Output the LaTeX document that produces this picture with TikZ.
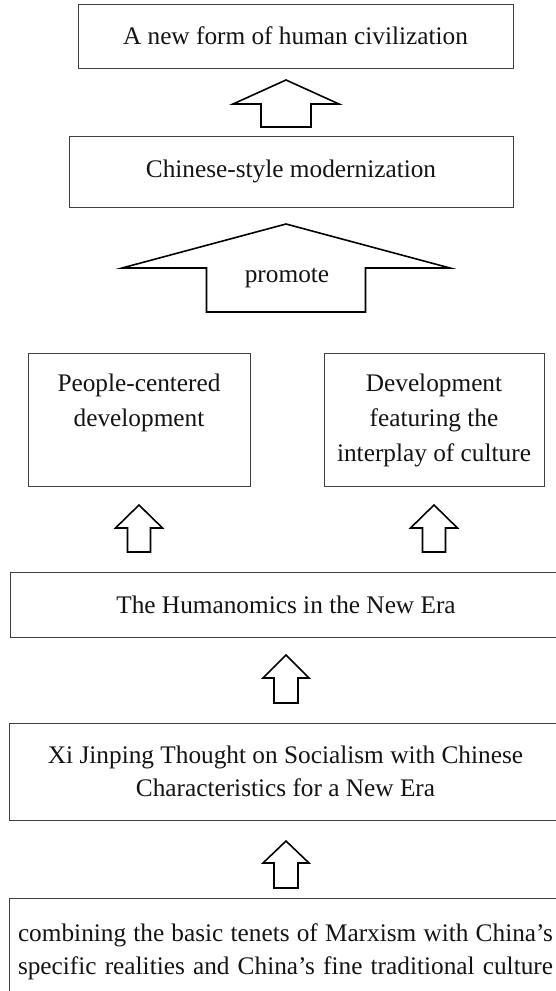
\documentclass[tikz,border=0pt]{standalone}
\usepackage{fontspec}
\setmainfont{Liberation Serif}

% block arrow pointing up: x, tip y, head base y, bottom y, head half width, shaft half width
\newcommand{\upblock}[6]{%
  \draw[blockline] (#1,#2) -- (#1+#5,#3) -- (#1+#6,#3) -- (#1+#6,#4)
    -- (#1-#6,#4) -- (#1-#6,#3) -- (#1-#5,#3) -- cycle;}

\begin{document}
\begin{tikzpicture}[x=1pt,y=-1pt]
  \tikzstyle{box}=[draw=black!75, line width=0.9pt, inner sep=0pt, align=center,
                   text=black!92, font=\fontsize{25.3}{33.5}\selectfont]
  \tikzstyle{tallbox}=[font=\fontsize{25.3}{35}\selectfont]
  \tikzstyle{blockline}=[draw=black, line width=1.6pt, line join=miter, fill=white]

  \useasboundingbox (0,0) rectangle (556,991);
  \fill[white] (0,0) rectangle (556,991);
  \clip (0,0) rectangle (556,991);

  % boxes, top to bottom
  \node[box, minimum width=435, minimum height=64]  (civil)  at (295.5,36)  {A new form of human civilization};
  \node[box, minimum width=444, minimum height=71]  (modern) at (291,171.5) {Chinese-style modernization};
  \node[box, tallbox, minimum width=222, minimum height=133] (people) at (139,419.5) {People-centered\strut\\development\\\strut};
  \node[box, tallbox, minimum width=220, minimum height=133] (culture) at (434,419.5) {Development\strut\\featuring the\\interplay of culture\strut};
  \node[box, minimum width=552, minimum height=65]  (human)  at (286,604.5) {The Humanomics in the New Era};
  \node[box, minimum width=553, minimum height=97]  (xi)     at (285.5,771.5) {Xi Jinping Thought on Socialism with Chinese\\Characteristics for a New Era};
  \node[box, minimum width=553, minimum height=107] (marx)   at (285.5,952)
    {\makebox[535pt][s]{combining the basic tenets of Marxism with China’s}\\
     \makebox[535pt][s]{specific realities and China’s fine traditional culture}};

  % arrows
  \upblock{286}{80}{104}{127}{53}{25}
  \upblock{286}{224}{268}{312}{164}{79.5}
  \node[font=\fontsize{25.3}{30}\selectfont, text=black!92] (promote) at (287,278) {promote};
  \upblock{139}{505}{528}{552}{23.5}{11.5}
  \upblock{434}{505}{528}{552}{23.5}{11.5}
  \upblock{286}{655}{678}{703}{23}{12}
  \upblock{286}{841}{863}{888}{23}{12}
\end{tikzpicture}
\end{document}
